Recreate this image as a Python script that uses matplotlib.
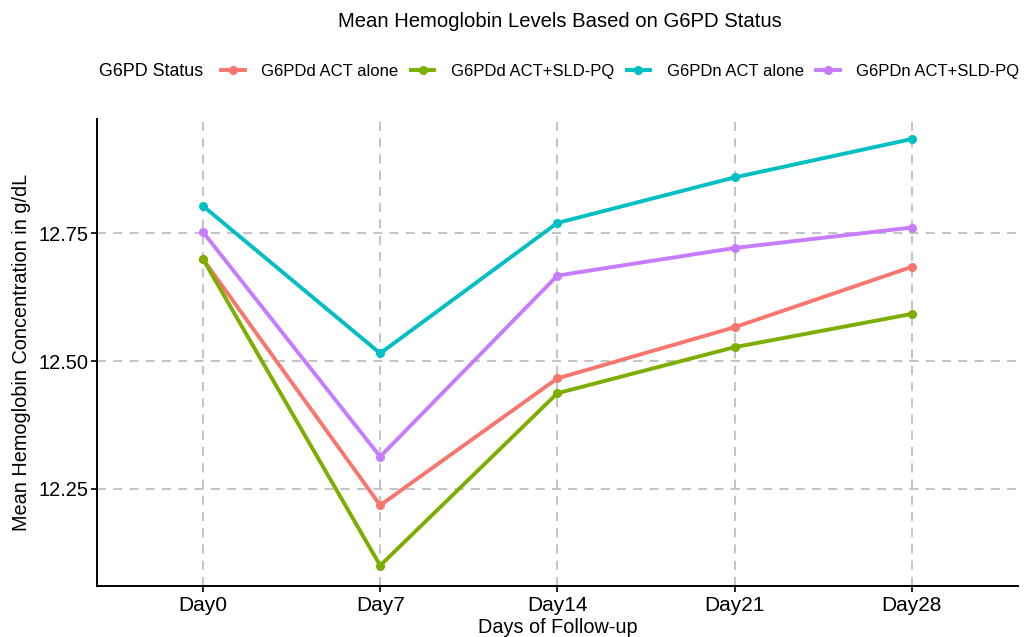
import matplotlib
matplotlib.use("Agg")
import matplotlib.pyplot as plt
from matplotlib.lines import Line2D
from matplotlib.offsetbox import HPacker

plt.rcParams['font.family'] = ['Liberation Sans', 'DejaVu Sans']

days = ["Day0", "Day7", "Day14", "Day21", "Day28"]
groups = ["G6PDd ACT alone", "G6PDd ACT+SLD-PQ", "G6PDn ACT alone", "G6PDn ACT+SLD-PQ"]
g6pdd_act = [12.699, 12.218, 12.466, 12.566, 12.684]
g6pdd_act_pq = [12.699, 12.100, 12.437, 12.527, 12.592]
g6pdn_act = [12.803, 12.515, 12.770, 12.859, 12.934]
g6pdn_act_pq = [12.752, 12.313, 12.667, 12.721, 12.761]
series = [g6pdd_act, g6pdd_act_pq, g6pdn_act, g6pdn_act_pq]
colors = ["#F8766D", "#7CAE00", "#00BFC4", "#C77CFF"]
yticks = [12.25, 12.50, 12.75]

fig = plt.figure(figsize=(10.27, 6.37), dpi=100)
ax = fig.add_axes([0.0942, 0.080, 0.8970, 0.733])

x = list(range(len(days)))
for vals, c, lab in zip(series, colors, groups):
    ax.plot(x, vals, color=c, lw=2.8, marker='o', ms=5.5, label=lab, solid_capstyle='round')

ax.set_xlim(-0.6, 4.6)
ax.set_ylim(12.06, 12.973)
ax.set_xticks(x)
ax.set_xticklabels(days)
ax.set_yticks(yticks)
ax.set_yticklabels([f"{v:.2f}" for v in yticks])
ax.grid(True, color="#BEBEBE", linestyle=(0, (5, 4)), linewidth=1.3)
ax.set_axisbelow(True)
for s in ["top", "right"]:
    ax.spines[s].set_visible(False)
for s in ["left", "bottom"]:
    ax.spines[s].set_linewidth(1.4)
    ax.spines[s].set_color("black")
ax.tick_params(axis='y', length=4, width=1.2, color='black', labelsize=14.4, labelcolor='black', pad=2)
ax.tick_params(axis='x', length=4, width=1.2, color='black', labelsize=15, labelcolor='black', pad=3)
ax.set_xlabel("Days of Follow-up", fontsize=14.3, labelpad=2)
ax.set_ylabel("Mean Hemoglobin Concentration in g/dL", fontsize=14.3, labelpad=5)

fig.text(0.545, 0.967, "Mean Hemoglobin Levels Based on G6PD Status", ha='center', va='center', fontsize=14.6)

handles = [Line2D([0], [0], color=c, lw=2.8, marker='o', ms=5.5) for c in colors]
leg = fig.legend(handles, groups, title="G6PD Status", loc='center', bbox_to_anchor=(0.5445, 0.888),
                 ncol=4, frameon=False, fontsize=12.0, title_fontsize=12.9, handlelength=1.4,
                 handletextpad=1.0, columnspacing=0.75)
title_box = leg._legend_title_box
handle_box = leg._legend_handle_box
leg._legend_box._children = [HPacker(pad=0, sep=13, children=[title_box, handle_box], align='center')]

fig.savefig("out.png", dpi=100)
